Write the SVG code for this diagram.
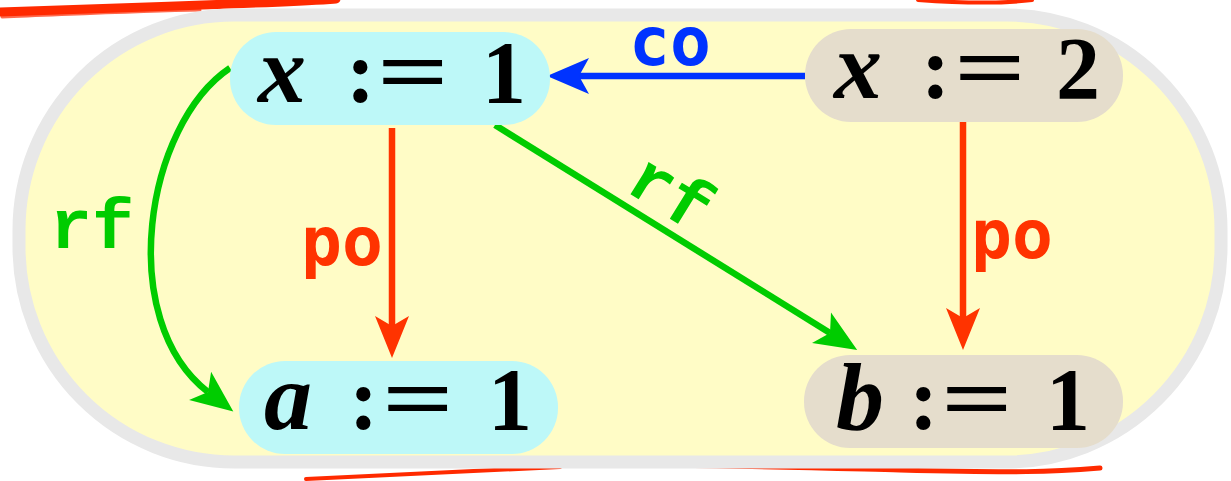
<svg xmlns="http://www.w3.org/2000/svg" width="1231" height="481" viewBox="0 0 1231 481">
<style>
.var{font-family:"Liberation Serif",serif;font-style:italic;font-weight:bold;font-size:96px;fill:#000}
.op{font-family:"Liberation Serif",serif;font-weight:bold;font-size:88px;fill:#000}
.lbl{font-family:"DejaVu Sans Mono",monospace;font-weight:bold;font-size:68px}
.tt{font-family:"Courier New","Liberation Mono",Cousine,monospace;font-weight:bold;font-size:70px}
.edge{fill:none;stroke-width:6.5}
.scr{fill:none;stroke:#FF2A00;stroke-linecap:round}
</style>
<defs>
<marker id="ab" markerUnits="userSpaceOnUse" markerWidth="46" markerHeight="40" refX="10" refY="20" orient="auto" overflow="visible"><path d="M0,2 L42,20 L0,38 L10,20 Z" fill="#0033FF"/></marker>
<marker id="ar" markerUnits="userSpaceOnUse" markerWidth="46" markerHeight="40" refX="10" refY="20" orient="auto" overflow="visible"><path d="M0,3 L42,20 L0,37 L10,20 Z" fill="#FF3300"/></marker>
<marker id="ag" markerUnits="userSpaceOnUse" markerWidth="46" markerHeight="40" refX="10" refY="20" orient="auto" overflow="visible"><path d="M0,2 L42,20 L0,38 L10,20 Z" fill="#00CC00"/></marker>
</defs>
<g id="background">
<path d="M0,12 C60,10 150,7 230,4 S320,0 336,-1" class="scr" stroke-width="9"/>
<path d="M2,17 C80,14 140,11 200,10" class="scr" stroke-width="3" opacity="0.7"/>
<path d="M918,0 C960,3 1000,4 1032,0" class="scr" stroke-width="4"/>
<path d="M306,479 C400,474 480,470 560,467" class="scr" stroke-width="4"/>
<path d="M560,465 C680,464 780,467 900,470 S1050,472 1100,468" class="scr" stroke-width="5"/>
<rect x="19" y="15" width="1202" height="447" rx="215" ry="215" fill="#FFFCC6" stroke="#E8E8E8" stroke-width="13"/>
</g>
<g id="connectors">
<path id="co" class="edge" stroke="#0033FF" d="M805,76 L579,76" marker-end="url(#ab)"/>
<text class="lbl" fill="#0033FF" x="629" y="65">co</text>
<path id="po1" class="edge" stroke="#FF3300" d="M392,128 L392,326" marker-end="url(#ar)"/>
<text class="lbl" fill="#FF3300" x="301" y="265">po</text>
<path id="po2" class="edge" stroke="#FF3300" d="M963,120 L963,318" marker-end="url(#ar)"/>
<text class="lbl" fill="#FF3300" x="971" y="258">po</text>
<path id="rf1" class="edge" stroke="#00CC00" d="M230,68 C145,125 115,320 208,392" marker-end="url(#ag)"/>
<text class="tt" fill="#00CC00" x="50" y="248">rf</text>
<path id="rf2" class="edge" stroke="#00CC00" d="M495,125 L830,333" marker-end="url(#ag)"/>
<text class="tt" fill="#00CC00" text-anchor="middle" transform="translate(659,212) rotate(31.8)">rf</text>
</g>
<g id="n_x1">
<rect x="230" y="32" width="320" height="93" rx="46" fill="#BDF8F8"/>
<text class="var" x="258" y="102">x</text>
<text class="op" x="346" y="102">:</text>
<text class="op" x="377" y="102" textLength="72" lengthAdjust="spacingAndGlyphs">=</text>
<text class="op" x="482" y="102">1</text>
</g>
<g id="n_x2">
<rect x="805" y="29" width="318" height="93" rx="46" fill="#E5DDCC"/>
<text class="var" x="834" y="98">x</text>
<text class="op" x="921" y="98">:</text>
<text class="op" x="954" y="98" textLength="72" lengthAdjust="spacingAndGlyphs">=</text>
<text class="op" x="1056" y="98">2</text>
</g>
<g id="n_a1">
<rect x="239" y="361" width="319" height="93" rx="46" fill="#BDF8F8"/>
<text class="var" x="264" y="429">a</text>
<text class="op" x="349" y="429">:</text>
<text class="op" x="382" y="429" textLength="72" lengthAdjust="spacingAndGlyphs">=</text>
<text class="op" x="488" y="429">1</text>
</g>
<g id="n_b1">
<rect x="804" y="355" width="319" height="93" rx="46" fill="#E5DDCC"/>
<text class="var" x="836" y="429">b</text>
<text class="op" x="909" y="429">:</text>
<text class="op" x="941" y="429" textLength="72" lengthAdjust="spacingAndGlyphs">=</text>
<text class="op" x="1046" y="429">1</text>
</g>
</svg>
